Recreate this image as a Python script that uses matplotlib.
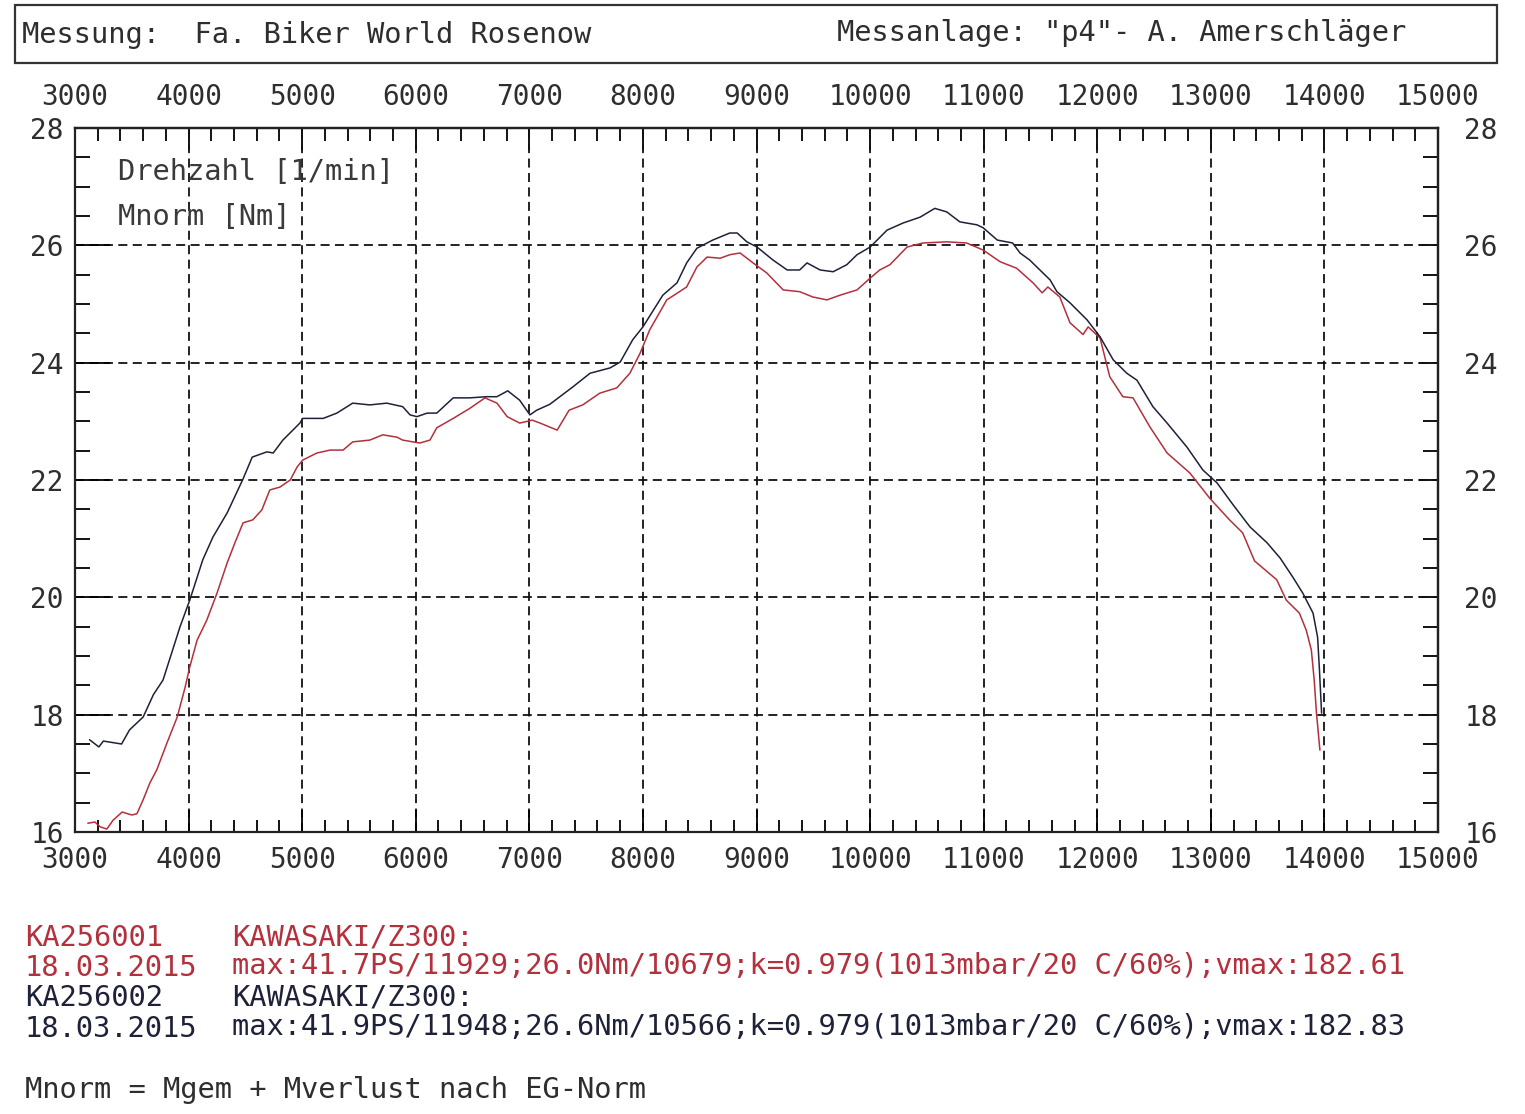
import matplotlib
matplotlib.use("Agg")
import matplotlib.pyplot as plt
from matplotlib.patches import Rectangle
from matplotlib.ticker import MultipleLocator
import numpy as np

# KA256001 (red) - Mnorm [Nm] over Drehzahl [1/min]
rpm_ka001 = [3115, 3175, 3220, 3280, 3335, 3415, 3500, 3545, 3600, 3660, 3720, 3810,
             3900, 3970, 4010, 4075, 4160, 4250, 4340, 4410, 4480, 4565, 4645, 4715,
             4805, 4895, 4955, 5005, 5130, 5245, 5360, 5445, 5595, 5710, 5835, 5885,
             5975, 6035, 6125, 6185, 6330, 6475, 6610, 6715, 6805, 6915, 7025, 7095,
             7245, 7350, 7470, 7620, 7770, 7885, 7975, 8060, 8210, 8385, 8475, 8565,
             8680, 8765, 8855, 8970, 9090, 9235, 9380, 9495, 9620, 9735, 9885, 10000,
             10085, 10175, 10325, 10465, 10675, 10850, 10995, 11145, 11290, 11435, 11515, 11565,
             11670, 11760, 11875, 11920, 12025, 12110, 12225, 12315, 12465, 12615, 12815, 12990,
             13165, 13280, 13385, 13580, 13665, 13780, 13840, 13885, 13910, 13930, 13960]
nm_ka001 = [16.15, 16.17, 16.09, 16.05, 16.20, 16.34, 16.29, 16.31, 16.55, 16.84, 17.06, 17.52,
            17.96, 18.47, 18.81, 19.27, 19.61, 20.07, 20.59, 20.94, 21.27, 21.32, 21.49, 21.83,
            21.88, 22.00, 22.22, 22.34, 22.46, 22.51, 22.51, 22.65, 22.68, 22.77, 22.73, 22.68,
            22.65, 22.63, 22.68, 22.89, 23.05, 23.22, 23.40, 23.31, 23.08, 22.97, 23.02, 22.97,
            22.85, 23.19, 23.28, 23.48, 23.57, 23.82, 24.16, 24.56, 25.07, 25.29, 25.63, 25.80,
            25.78, 25.84, 25.87, 25.70, 25.53, 25.24, 25.21, 25.12, 25.07, 25.15, 25.24, 25.44,
            25.58, 25.67, 25.97, 26.04, 26.06, 26.04, 25.92, 25.72, 25.61, 25.36, 25.19, 25.29,
            25.12, 24.68, 24.48, 24.61, 24.42, 23.76, 23.42, 23.40, 22.90, 22.46, 22.12, 21.69,
            21.32, 21.10, 20.62, 20.30, 19.95, 19.73, 19.44, 19.10, 18.59, 18.03, 17.40]

# KA256002 (dark)
rpm_ka002 = [3130, 3210, 3250, 3410, 3480, 3600, 3690, 3775, 3925, 4010, 4125, 4215,
             4340, 4480, 4560, 4690, 4745, 4830, 4980, 5005, 5185, 5305, 5445, 5595,
             5745, 5885, 5950, 6010, 6100, 6185, 6330, 6475, 6625, 6715, 6810, 6915,
             7005, 7065, 7180, 7385, 7535, 7710, 7800, 7910, 8000, 8175, 8300, 8385,
             8475, 8615, 8765, 8830, 8915, 9005, 9145, 9270, 9380, 9445, 9560, 9675,
             9795, 9885, 10000, 10150, 10290, 10440, 10570, 10675, 10790, 10940, 10995, 11120,
             11255, 11320, 11405, 11585, 11645, 11760, 11910, 12025, 12140, 12260, 12350, 12490,
             12615, 12790, 12930, 13055, 13195, 13345, 13495, 13610, 13720, 13810, 13900, 13940,
             13955, 13975]
nm_ka002 = [17.57, 17.45, 17.55, 17.50, 17.74, 17.96, 18.34, 18.59, 19.50, 19.95, 20.64, 21.03,
            21.44, 22.02, 22.39, 22.48, 22.46, 22.68, 22.97, 23.05, 23.05, 23.14, 23.31, 23.28,
            23.31, 23.25, 23.11, 23.08, 23.14, 23.14, 23.40, 23.40, 23.42, 23.42, 23.52, 23.36,
            23.11, 23.19, 23.29, 23.59, 23.82, 23.91, 24.01, 24.39, 24.61, 25.15, 25.36, 25.70,
            25.95, 26.09, 26.21, 26.21, 26.06, 25.97, 25.75, 25.58, 25.58, 25.70, 25.58, 25.55,
            25.67, 25.84, 25.97, 26.26, 26.38, 26.48, 26.63, 26.57, 26.40, 26.35, 26.30, 26.09,
            26.04, 25.87, 25.75, 25.41, 25.21, 25.02, 24.73, 24.44, 24.05, 23.82, 23.70, 23.25,
            22.97, 22.56, 22.17, 21.95, 21.58, 21.20, 20.93, 20.67, 20.35, 20.07, 19.73, 19.32,
            18.81, 18.03]

x_ticks = list(range(3000, 15001, 1000))
y_ticks = list(range(16, 29, 2))

RED = '#b3303c'
NAVY = '#1e2238'
TXT = '#2e2e2e'
FONT = 'DejaVu Sans Mono'
FS = 20.7
FS_TICK = 20

plt.rcParams['font.family'] = FONT

fig = plt.figure(figsize=(15.25, 11.14), dpi=100)
W, H = 1525, 1114
ax = fig.add_axes([75 / W, 1 - 832 / H, (1438 - 75) / W, (832 - 128) / H])

ax.plot(rpm_ka001, nm_ka001, color=RED, lw=1.1, zorder=3)
ax.plot(rpm_ka002, nm_ka002, color=NAVY, lw=1.1, zorder=4)

ax.set_xlim(3000, 15000)
ax.set_ylim(16, 28)
ax.set_xticks(x_ticks)
ax.set_yticks(y_ticks)
ax.xaxis.set_minor_locator(MultipleLocator(200))
ax.yaxis.set_minor_locator(MultipleLocator(0.5))
ax.grid(which='major', color='#111111', linestyle=(0, (5, 3)), lw=1.3)
ax.tick_params(axis='x', which='major', direction='in', length=16, width=1.3,
               labelsize=FS_TICK, labelcolor=TXT, pad=10, top=False, right=False)
ax.tick_params(axis='x', which='minor', direction='in', length=9, width=1.3, top=False)
ax.tick_params(axis='y', which='major', direction='in', length=25, width=1.3,
               labelsize=FS_TICK, labelcolor=TXT, pad=8, right=False)
ax.tick_params(axis='y', which='minor', direction='in', length=11, width=1.3, right=False)
for s in ax.spines.values():
    s.set_linewidth(1.6)
    s.set_color('#222222')

top = ax.secondary_xaxis('top')
top.set_xticks(x_ticks)
top.xaxis.set_minor_locator(MultipleLocator(200))
top.tick_params(which='major', direction='in', length=16, width=1.3,
                labelsize=FS_TICK, labelcolor=TXT, pad=12)
top.tick_params(which='minor', direction='in', length=9, width=1.3)
top.spines['top'].set_linewidth(1.6)

right = ax.secondary_yaxis('right')
right.set_yticks(y_ticks)
right.yaxis.set_minor_locator(MultipleLocator(0.5))
right.tick_params(which='major', direction='in', length=14, width=1.3,
                  labelsize=FS_TICK, labelcolor=TXT, pad=19)
right.tick_params(which='minor', direction='in', length=11, width=1.3)
right.spines['right'].set_linewidth(1.6)

ax.text(0.0316, 0.937, 'Drehzahl [1/min]', transform=ax.transAxes, fontsize=FS,
        color='#3a3a3a', va='center', ha='left')
ax.text(0.0316, 0.874, 'Mnorm [Nm]', transform=ax.transAxes, fontsize=FS,
        color='#3a3a3a', va='center', ha='left')

# header box
fig.add_artist(Rectangle((15 / W, 1 - 63 / H), (1497 - 15) / W, (63 - 5) / H,
                         transform=fig.transFigure, fill=False, lw=1.6, ec='#333333'))
fig.text(22 / W, 1 - 35 / H, 'Messung:  Fa. Biker World Rosenow', fontsize=FS,
         color=TXT, va='center', ha='left')
fig.text(837 / W, 1 - 33 / H, 'Messanlage: "p4"- A. Amerschläger', fontsize=FS,
         color=TXT, va='center', ha='left')

# footer
fig.text(25 / W, 1 - 938 / H, 'KA256001', fontsize=FS, color=RED, va='center')
fig.text(232 / W, 1 - 938 / H, 'KAWASAKI/Z300:', fontsize=FS, color=RED, va='center')
fig.text(25 / W, 1 - 968 / H, '18.03.2015', fontsize=FS, color=RED, va='center')
fig.text(232 / W, 1 - 966 / H,
         'max:41.7PS/11929;26.0Nm/10679;k=0.979(1013mbar/20 C/60%);vmax:182.61',
         fontsize=FS, color=RED, va='center')
fig.text(25 / W, 1 - 998 / H, 'KA256002', fontsize=FS, color=NAVY, va='center')
fig.text(232 / W, 1 - 998 / H, 'KAWASAKI/Z300:', fontsize=FS, color=NAVY, va='center')
fig.text(25 / W, 1 - 1029 / H, '18.03.2015', fontsize=FS, color=NAVY, va='center')
fig.text(232 / W, 1 - 1027 / H,
         'max:41.9PS/11948;26.6Nm/10566;k=0.979(1013mbar/20 C/60%);vmax:182.83',
         fontsize=FS, color=NAVY, va='center')
fig.text(25 / W, 1 - 1090 / H, 'Mnorm = Mgem + Mverlust nach EG-Norm', fontsize=FS,
         color=TXT, va='center')

fig.savefig('out.png', dpi=100)
